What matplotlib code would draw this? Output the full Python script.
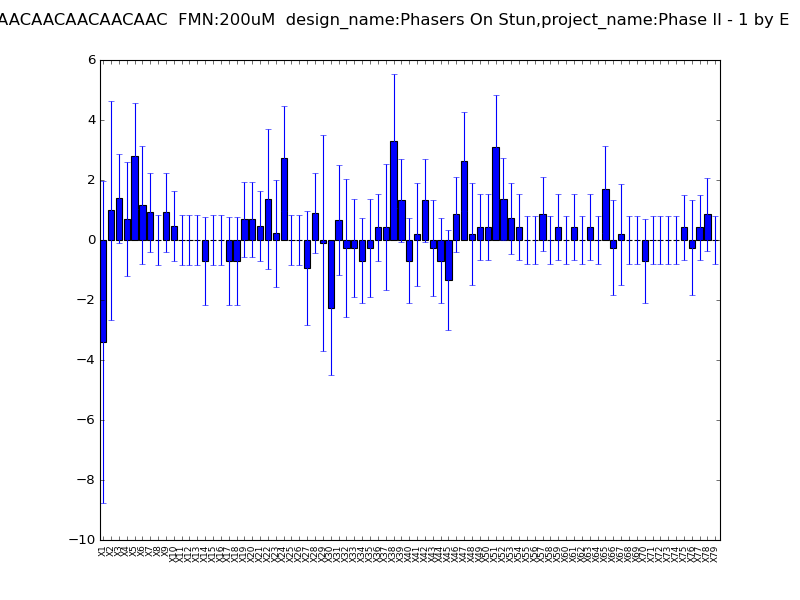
import numpy as np
import matplotlib
matplotlib.use('Agg')
import matplotlib.pyplot as plt

plt.style.use('classic')

title = 'AACAACAACAACAAC  FMN:200uM  design_name:Phasers On Stun,project_name:Phase II - 1 by E'

labels = ['X%d' % i for i in range(1, 80)]

values = [-3.39, 0.99, 1.39, 0.69, 2.79, 1.16, 0.92, 0.0, 0.92, 0.46,
          0.0, 0.0, 0.0, -0.71, 0.0, 0.0, -0.71, -0.71, 0.69, 0.69,
          0.46, 1.36, 0.22, 2.72, 0.0, 0.0, -0.94, 0.89, -0.1, -2.28,
          0.66, -0.26, -0.26, -0.69, -0.26, 0.42, 0.42, 3.29, 1.32, -0.69,
          0.19, 1.32, -0.26, -0.69, -1.34, 0.86, 2.62, 0.19, 0.42, 0.42,
          3.09, 1.36, 0.72, 0.42, 0.0, 0.0, 0.86, 0.0, 0.42, 0.0,
          0.42, 0.0, 0.42, 0.0, 1.69, -0.26, 0.19, 0.0, 0.0, -0.69,
          0.0, 0.0, 0.0, 0.0, 0.42, -0.26, 0.42, 0.86, 0.0]

errors = [5.36, 3.65, 1.49, 1.9, 1.77, 1.96, 1.32, 0.82, 1.32, 1.16,
          0.82, 0.82, 0.82, 1.47, 0.82, 0.82, 1.47, 1.47, 1.25, 1.25,
          1.16, 2.33, 1.78, 1.74, 0.82, 0.82, 1.9, 1.33, 3.61, 2.22,
          1.83, 2.3, 1.63, 1.41, 1.63, 1.13, 2.1, 2.23, 1.37, 1.41,
          1.72, 1.37, 1.6, 1.41, 1.67, 1.25, 1.65, 1.7, 1.1, 1.1,
          1.73, 1.37, 1.18, 1.1, 0.8, 0.8, 1.23, 0.8, 1.1, 0.8,
          1.1, 0.8, 1.1, 0.8, 1.45, 1.58, 1.68, 0.8, 0.8, 1.4,
          0.8, 0.8, 0.8, 0.8, 1.08, 1.58, 1.08, 1.22, 0.8]

ind = np.arange(len(values))
width = 0.8

fig = plt.figure(figsize=(10, 7.5), dpi=80)
ax = fig.add_subplot(1, 1, 1)
ax.bar(ind, values, width, align='edge', color='b', edgecolor='k',
       yerr=errors, ecolor='b', capsize=3)

ax.set_xlim(0, len(values))
ax.set_ylim(-10, 6)
ax.set_xticks(ind + width / 2.)
ax.set_xticklabels(labels, rotation=90, fontsize=8)

fig.text(0.987, 0.978, title, ha='right', va='top', fontsize=14.7)

fig.savefig('out.png', dpi=80)
